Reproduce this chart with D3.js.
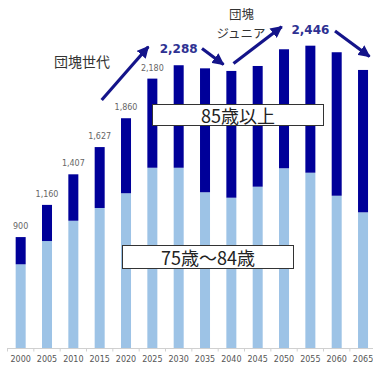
<!DOCTYPE html>
<html>
<head>
<meta charset="utf-8">
<script src="https://cdn.jsdelivr.net/npm/d3@7"></script>
<style>
  html, body { margin: 0; padding: 0; background: #fff; }
  svg { display: block; }
</style>
</head>
<body>
<div id="chart"></div>
<script>
// 後期高齢者人口の推移（万人）
const years = ["2000","2005","2010","2015","2020","2025","2030","2035","2040","2045","2050","2055","2060","2065"];
const age75to84 = [680, 868, 1032, 1135, 1254, 1460, 1460, 1262, 1218, 1307, 1456, 1420, 1234, 1100];
const total75plus = [900, 1160, 1407, 1627, 1860, 2180, 2288, 2263, 2242, 2282, 2417, 2446, 2393, 2250];
const age85plus = total75plus.map((t, i) => t - age75to84[i]);

// Values written above bars: plain ones, and the two peaks in bold
const plainLabelYears = ["2000","2005","2010","2015","2020","2025"];
const peakLabelYears = ["2030","2055"];

const W = 373, H = 369;
const svg = d3.select("#chart").append("svg").attr("width", W).attr("height", H);

const x = d3.scaleBand().domain(years).range([7.5, 376.2]).paddingInner(0.62).paddingOuter(0.31);
const y = d3.scaleLinear().domain([0, 2815]).range([348.5, 0]);

const darkBlue = "#000099";
const lightBlue = "#9dc3e6";
const arrowBlue = "#14148a";

const rows = years.map((yr, i) => ({ yr, low: age75to84[i], high: age85plus[i], total: total75plus[i] }));

// stacked bars
const stack = d3.stack().keys(["low", "high"])(rows);
const colors = { low: lightBlue, high: darkBlue };
svg.append("g").selectAll("g").data(stack).join("g")
  .attr("fill", d => colors[d.key])
  .selectAll("rect").data(d => d).join("rect")
  .attr("x", d => x(d.data.yr))
  .attr("width", x.bandwidth())
  .attr("y", d => y(d[1]))
  .attr("height", d => y(d[0]) - y(d[1]));

// axis
const axis = svg.append("g").attr("transform", `translate(0,${y(0)})`)
  .call(d3.axisBottom(x).tickSize(0).tickPadding(8));
axis.select(".domain").attr("stroke", "#d0d0d0").attr("d", "M7,0H373");
axis.selectAll("text").attr("fill", "#555").style("font-family", "'DejaVu Sans', Verdana, sans-serif").style("font-size", "8px");
// boundary ticks between categories
const bounds = years.map(yr => x(yr) - x.step() * x.paddingInner() / 2);
axis.append("g").selectAll("line").data(bounds).join("line")
  .attr("x1", d => d).attr("x2", d => d).attr("y1", 0).attr("y2", 3)
  .attr("stroke", "#d0d0d0");

const fmt = d3.format(",");
const byYear = Object.fromEntries(rows.map(r => [r.yr, r]));

// plain value labels
svg.append("g").selectAll("text").data(plainLabelYears).join("text")
  .attr("x", d => x(d) + x.bandwidth() / 2)
  .attr("y", d => y(byYear[d].total) - 8)
  .attr("text-anchor", "middle")
  .attr("fill", "#666")
  .style("font-family", "'DejaVu Sans', Verdana, sans-serif")
  .style("font-size", "8px")
  .text(d => fmt(byYear[d].total));

// peak value labels
svg.append("g").selectAll("text").data(peakLabelYears).join("text")
  .attr("x", d => x(d) + x.bandwidth() / 2)
  .attr("y", d => y(byYear[d].total) - 12)
  .attr("text-anchor", "middle")
  .attr("fill", "#2e3192")
  .style("font-family", "'DejaVu Sans', Verdana, sans-serif")
  .style("font-size", "12px")
  .style("font-weight", "bold")
  .text(d => fmt(byYear[d].total));

// series name boxes
const jp = "'Noto Sans CJK JP', sans-serif";
function nameBox(x0, y0, w, h, label) {
  svg.append("rect").attr("x", x0).attr("y", y0).attr("width", w).attr("height", h)
    .attr("fill", "#fff").attr("stroke", "#333").attr("stroke-width", 1);
  svg.append("text").attr("x", x0 + w / 2).attr("y", y0 + h / 2)
    .attr("text-anchor", "middle").attr("dominant-baseline", "central")
    .attr("fill", "#222").style("font-family", jp).style("font-size", "18px")
    .text(label);
}
nameBox(152.5, 104.5, 171, 21, "85歳以上");
nameBox(122.5, 245.5, 171, 23, "75歳～84歳");

// trend arrows
svg.append("defs").append("marker")
  .attr("id", "head").attr("viewBox", "0 0 10 10").attr("refX", 9).attr("refY", 5)
  .attr("markerUnits", "userSpaceOnUse").attr("markerWidth", 12).attr("markerHeight", 12)
  .attr("orient", "auto")
  .append("path").attr("d", "M0,0L10,5L0,10Z").attr("fill", arrowBlue);

const arrows = [
  [[101.7, 100], [148.3, 46.7]],
  [[202, 48.5], [223.5, 64.5]],
  [[233.5, 63.5], [281.7, 26.7]],
  [[335, 31], [369.5, 56.5]]
];
svg.append("g").selectAll("line").data(arrows).join("line")
  .attr("x1", d => d[0][0]).attr("y1", d => d[0][1])
  .attr("x2", d => d[1][0]).attr("y2", d => d[1][1])
  .attr("stroke", arrowBlue).attr("stroke-width", 3.2)
  .attr("marker-end", "url(#head)");

// generation annotations
svg.append("text")
  .attr("x", 82).attr("y", 61)
  .attr("text-anchor", "middle").attr("dominant-baseline", "central")
  .attr("fill", "#333").style("font-family", jp).style("font-size", "14px")
  .text("団塊世代");

const junior = svg.append("text")
  .attr("text-anchor", "middle")
  .attr("fill", "#333").style("font-family", jp).style("font-size", "12.5px");
junior.append("tspan").attr("x", 241.5).attr("y", 19).text("団塊");
junior.append("tspan").attr("x", 241).attr("y", 38).text("ジュニア");
</script>
</body>
</html>
